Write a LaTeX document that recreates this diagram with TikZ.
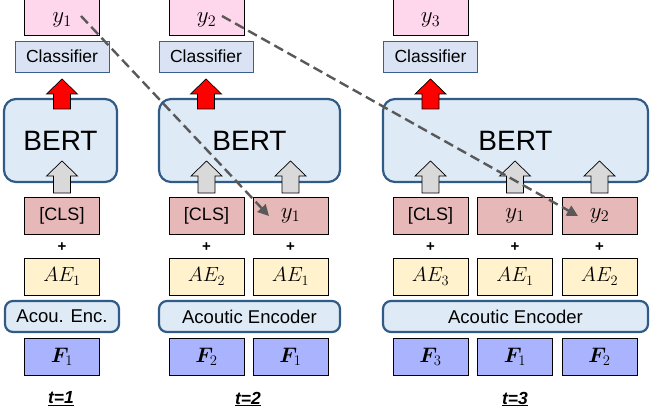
\RequirePackage{fix-cm}
\documentclass[tikz,border=0pt]{standalone}
\usepackage{fontspec}
\setmainfont{Liberation Sans}
\usepackage{bm}
\usetikzlibrary{arrows.meta,calc}
\definecolor{toppink}{HTML}{FFD7EC}
\definecolor{clsfill}{HTML}{DAE3F3}
\definecolor{clsborder}{HTML}{3A5F8F}
\definecolor{bertfill}{HTML}{DEEAF6}
\definecolor{bertborder}{HTML}{2F5B86}
\definecolor{tokfill}{HTML}{E6B9B8}
\definecolor{aefill}{HTML}{FFF2CC}
\definecolor{ffill}{HTML}{AAB4FE}
\definecolor{dashcol}{HTML}{595959}
\definecolor{grayarrow}{HTML}{D9D9D9}
\newcommand{\ym}[1]{{\fontsize{23}{24}\selectfont$y_{#1}$}}
\newcommand{\aem}[1]{{\fontsize{20.5}{22}\selectfont$AE_{#1}$}}
\newcommand{\fm}[1]{{\fontsize{21}{22}\selectfont$\bm{F}_{#1}$}}
\tikzset{
  x=1pt, y=-1pt,
  pbox/.style={draw=black, line width=0.8pt, minimum width=75pt, minimum height=37pt, inner sep=0pt, font=\fontsize{18}{20}\selectfont},
  topbox/.style={pbox, fill=toppink, minimum height=56pt},
  toptext/.style={inner sep=0pt},
  tokbox/.style={pbox, fill=tokfill},
  aebox/.style={pbox, fill=aefill},
  fbox/.style={pbox, fill=ffill},
  clsbox/.style={draw=clsborder, line width=0.8pt, fill=clsfill, minimum width=94pt, minimum height=31pt, inner sep=0pt, font=\fontsize{17.5}{20}\selectfont},
  bertbox/.style={draw=bertborder, line width=2.2pt, fill=bertfill, rounded corners=12pt, minimum height=83pt, inner sep=0pt, font=\fontsize{28}{30}\selectfont},
  encbox/.style={draw=bertborder, line width=2.2pt, fill=bertfill, rounded corners=8pt, minimum height=31pt, inner sep=0pt, font=\fontsize{18.5}{20}\selectfont},
  plus/.style={font=\bfseries\fontsize{15}{16}\selectfont, inner sep=0pt},
  tlabel/.style={font=\bfseries\itshape\fontsize{17.5}{18}\selectfont, inner sep=0pt},
  dasharrow/.style={draw=dashcol, line width=2.4pt, dash pattern=on 10pt off 5pt, -{Triangle[length=11pt,width=11pt]}},
}
\newcommand{\uparr}[4]{% x, tipy, bottomy, fill
  \filldraw[fill=#4, draw=black, line width=0.7pt]
    (#1,#2) -- (#1+15.5,#2+15) -- (#1+8.5,#2+15) -- (#1+8.5,#3) -- (#1-8.5,#3) -- (#1-8.5,#2+15) -- (#1-15.5,#2+15) -- cycle;}
\begin{document}
\begin{tikzpicture}
\useasboundingbox (0,0) rectangle (655,414);
% BERT boxes
\node[bertbox, minimum width=113pt] (bert1) at (60.5,140.5) {BERT};
\node[bertbox, minimum width=181pt] (bert2) at (249.5,140.5) {BERT};
\node[bertbox, minimum width=265pt] (bert3) at (515.5,140.5) {BERT};
% top output boxes (top edge beyond the picture)
\node[topbox] (o1box) at (62,7) {};
\node[topbox] (o2box) at (206.5,7) {};
\node[topbox] (o3box) at (430.5,7) {};
\node[toptext] (o1) at (62,20) {\ym{1}};
\node[toptext] (o2) at (206.5,20) {\ym{2}};
\node[toptext] (o3) at (430.5,20) {\ym{3}};
% classifiers
\node[clsbox] (c1) at (62,56.5) {Classifier};
\node[clsbox] (c2) at (206,56.5) {Classifier};
\node[clsbox] (c3) at (430.5,56.5) {Classifier};
% red arrows
\uparr{62}{79}{109}{red}
\uparr{206}{79}{109}{red}
\uparr{430.5}{79}{109}{red}
% gray arrows
\uparr{62}{161}{193}{grayarrow}
\uparr{206.5}{161}{193}{grayarrow}
\uparr{290.5}{161}{193}{grayarrow}
\uparr{430.5}{161}{193}{grayarrow}
\uparr{515}{161}{193}{grayarrow}
\uparr{599.5}{161}{193}{grayarrow}
% token boxes
\node[tokbox] (t11) at (62,215.5) {[CLS]};
\node[tokbox] (t21) at (206.5,215.5) {[CLS]};
\node[tokbox] (t22) at (290.5,215.5) {\ym{1}};
\node[tokbox] (t31) at (430.5,215.5) {[CLS]};
\node[tokbox] (t32) at (515,215.5) {\ym{1}};
\node[tokbox] (t33) at (599.5,215.5) {\ym{2}};
% plus signs
\foreach \x/\n in {62/p11,206.5/p21,290.5/p22,430.5/p31,515/p32,599.5/p33}
  \node[plus] (\n) at (\x,247) {+};
% AE boxes
\node[aebox] (a11) at (62,276.5) {\aem{1}};
\node[aebox] (a21) at (206.5,276.5) {\aem{2}};
\node[aebox] (a22) at (290.5,276.5) {\aem{1}};
\node[aebox] (a31) at (430.5,276.5) {\aem{3}};
\node[aebox] (a32) at (515,276.5) {\aem{1}};
\node[aebox] (a33) at (599.5,276.5) {\aem{2}};
% encoders
\node[encbox, minimum width=114pt] (e1) at (62,316.5) {Acou. Enc.};
\node[encbox, minimum width=181pt] (e2) at (249.5,316.5) {Acoutic Encoder};
\node[encbox, minimum width=265pt] (e3) at (515.5,316.5) {Acoutic Encoder};
% F boxes
\node[fbox] (f11) at (62,356.5) {\fm{1}};
\node[fbox] (f21) at (206.5,356.5) {\fm{2}};
\node[fbox] (f22) at (290.5,356.5) {\fm{1}};
\node[fbox] (f31) at (430.5,356.5) {\fm{3}};
\node[fbox] (f32) at (515,356.5) {\fm{1}};
\node[fbox] (f33) at (599.5,356.5) {\fm{2}};
% time labels
\node[tlabel] (l1) at (61,399) {\underline{t=1}};
\node[tlabel] (l2) at (248,399) {\underline{t=2}};
\node[tlabel] (l3) at (515,399) {\underline{t=3}};
% dashed arrows
\coordinate (s1) at (81,16);
\coordinate (d1) at (269,216);
\coordinate (s2) at (222,16);
\coordinate (d2) at (578,216);
\draw[dasharrow] (s1) -- (d1);
\draw[dasharrow] (s2) -- (d2);
\end{tikzpicture}
\end{document}
